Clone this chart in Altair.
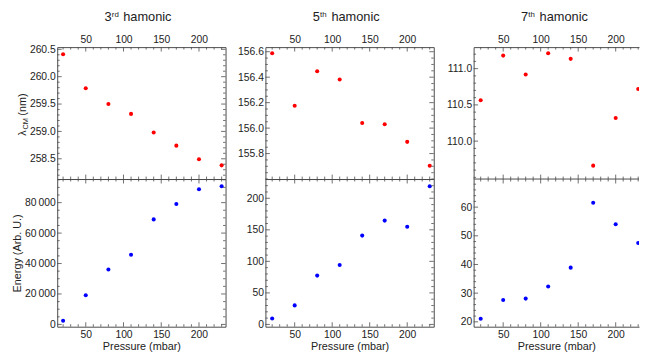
import altair as alt
import pandas as pd
import numpy as np

# ---------------- data ----------------
pressure = [20, 50, 80, 110, 140, 170, 200, 230]

lambda_3rd = [260.41, 259.79, 259.50, 259.32, 258.98, 258.74, 258.49, 258.38]
energy_3rd = [2400, 19150, 36100, 45800, 69000, 79100, 88800, 90750]
lambda_5th = [156.588, 156.175, 156.446, 156.382, 156.040, 156.030, 155.892, 155.705]
energy_5th = [9.3, 30.2, 77.4, 94.1, 140.8, 164.6, 154.8, 219.0]
lambda_7th = [110.563, 111.180, 110.920, 111.212, 111.135, 109.662, 110.320, 110.720]
energy_7th = [21.1, 27.6, 28.1, 32.3, 38.9, 61.5, 54.0, 47.5]

harmonic_num = ["3", "5", "7"]
harmonic_sup = ["rd", "th", "th"]
harmonic_word = "hamonic"

x_major = [50, 100, 150, 200]
lambda_major = [[258.5, 259.0, 259.5, 260.0, 260.5],
                [155.8, 156.0, 156.2, 156.4, 156.6],
                [110.0, 110.5, 111.0]]
energy_major = [[0, 20000, 40000, 60000, 80000],
                [0, 50, 100, 150, 200],
                [20, 30, 40, 50, 60]]
ylabel_parts = ["\u03bb", "CM", "(nm)"]

FONT = "Liberation Sans"
FRAME = "#4a4a4a"
TXT = "#222222"
W = [171, 171, 168]
H_TOP, H_BOT = 134, 150
X_DOM = [[12.2, 235.2], [11.0, 235.4], [10.6, 231.1]]
LAM_DOM = [[258.13, 260.54], [155.60, 156.636], [109.477, 111.297]]
EN_DOM = [[-1500, 95500], [-3.6, 230.5], [18.3, 69.8]]
X_MINOR = 10
LAM_MINOR = [0.1, 0.05, 0.1]
EN_MINOR = [5000, 10, 2]


def minor_ticks(step, lo, hi, majors):
    k0 = int(np.ceil(lo / step - 1e-9))
    k1 = int(np.floor(hi / step + 1e-9))
    vals = [round(k * step, 6) for k in range(k0, k1 + 1)]
    return [v for v in vals if all(abs(v - m) > step * 1e-3 for m in majors)]


def panel(i, ys, color, top):
    w = W[i]
    h = H_TOP if top else H_BOT
    xdom = X_DOM[i]
    ydom = LAM_DOM[i] if top else EN_DOM[i]
    ymaj = lambda_major[i] if top else energy_major[i]
    ystep = LAM_MINOR[i] if top else EN_MINOR[i]
    last = i == 2
    xsc = alt.Scale(domain=xdom, zero=False, nice=False)
    ysc = alt.Scale(domain=ydom, zero=False, nice=False)

    if top:
        xax = alt.Axis(orient="top", values=x_major, title=None, labelPadding=3,
                       domain=last, domainColor=FRAME)
    else:
        xax = alt.Axis(orient="bottom", values=x_major, title="Pressure (mbar)",
                       labelPadding=2.5, titleX=w / 2, titleY=20, titleAlign="center",
                       titleBaseline="middle", domain=last, domainColor=FRAME)
    yargs = dict(orient="left", values=ymaj, title=None, labelPadding=2, domain=last, domainColor=FRAME)
    if top:
        yargs["format"] = ".1f"
    elif i == 0:
        yargs["labelExpr"] = "replace(format(datum.value, ','), ',', '\u2009')"
        yargs.update(title="Energy (Arb. U.)", titleAngle=270, titleX=-40, titleY=75,
                     titleAlign="center", titleBaseline="middle")
    else:
        yargs["format"] = "d"
    yax = alt.Axis(**yargs)

    df = pd.DataFrame({"p": pressure, "v": ys})
    pts = alt.Chart(df).mark_circle(size=17, color=color, opacity=1, clip=True).encode(
        x=alt.X("p:Q", scale=xsc, axis=xax),
        y=alt.Y("v:Q", scale=ysc, axis=yax),
    )
    layers = [pts]

    xmin = minor_ticks(X_MINOR, xdom[0], xdom[1], x_major)
    ymin = minor_ticks(ystep, ydom[0], ydom[1], ymaj)
    for vals, L in ((x_major, 4.5), (xmin, 2.5)):
        d = pd.DataFrame({"p": vals})
        for y0, y1 in ((0, L), (h - L, h)):
            layers.append(alt.Chart(d).mark_rule(color=FRAME, strokeWidth=0.8).encode(
                x=alt.X("p:Q", scale=xsc, axis=xax), y=alt.value(y0), y2=alt.value(y1)))
    for vals, L in ((ymaj, 4.5), (ymin, 2.5)):
        d = pd.DataFrame({"v": vals})
        edges = [(0, L)] if last else [(0, L), (w - L, w)]
        for x0, x1 in edges:
            layers.append(alt.Chart(d).mark_rule(color=FRAME, strokeWidth=0.8).encode(
                y=alt.Y("v:Q", scale=ysc, axis=yax), x=alt.value(x0), x2=alt.value(x1)))

    if last and top:
        layers.append(alt.Chart(pd.DataFrame({"a": [0]})).mark_rule(color=FRAME, strokeWidth=1).encode(
            x=alt.value(0), x2=alt.value(w), y=alt.value(h)))

    if top:
        # heading with superscript
        layers.append(alt.Chart(pd.DataFrame({"s": [harmonic_num[i]]})).mark_text(
            align="left", baseline="alphabetic", fontSize=13, font=FONT, color=TXT).encode(
            x=alt.value(48), y=alt.value(-26.5), text="s:N"))
        layers.append(alt.Chart(pd.DataFrame({"s": [harmonic_sup[i]]})).mark_text(
            align="left", baseline="alphabetic", fontSize=8, font=FONT, color=TXT).encode(
            x=alt.value(55.5), y=alt.value(-30.5), text="s:N"))
        layers.append(alt.Chart(pd.DataFrame({"s": [harmonic_word]})).mark_text(
            align="left", baseline="alphabetic", fontSize=13, font=FONT, color=TXT).encode(
            x=alt.value(67), y=alt.value(-26.5), text="s:N"))
        if i == 0:
            layers.append(alt.Chart(pd.DataFrame({"s": [ylabel_parts[0]]})).mark_text(
                align="left", baseline="alphabetic", angle=270, fontSize=11, font=FONT, color=TXT).encode(
                x=alt.value(-32), y=alt.value(90), text="s:N"))
            layers.append(alt.Chart(pd.DataFrame({"s": [ylabel_parts[1]]})).mark_text(
                align="left", baseline="alphabetic", angle=270, fontSize=7.5, font=FONT, color=TXT).encode(
                x=alt.value(-29.5), y=alt.value(83.8), text="s:N"))
            layers.append(alt.Chart(pd.DataFrame({"s": [ylabel_parts[2]]})).mark_text(
                align="left", baseline="alphabetic", angle=270, fontSize=11, font=FONT, color=TXT).encode(
                x=alt.value(-32), y=alt.value(69.6), text="s:N"))

    ch = alt.layer(*layers).properties(width=w, height=h)
    if last:
        ch = ch.properties(view=alt.ViewBackground(stroke="transparent"))
    return ch


lams = [lambda_3rd, lambda_5th, lambda_7th]
ens = [energy_3rd, energy_5th, energy_7th]
tops = [panel(i, lams[i], "#ff0000", True) for i in range(3)]
bots = [panel(i, ens[i], "#0000ff", False) for i in range(3)]

chart = alt.concat(
    *tops, *bots, columns=3, spacing={"row": 0, "column": 40.5}, bounds="flush"
).resolve_scale(
    x="independent", y="independent"
).properties(
    padding={"left": 3, "top": 0, "right": 0, "bottom": 0},
    background="white",
).configure_view(
    stroke=FRAME, strokeWidth=1
).configure_axis(
    labelFont=FONT, labelFontSize=10.5, labelColor=TXT,
    titleFont=FONT, titleFontSize=11, titleColor=TXT, titleFontWeight="normal",
    grid=False, ticks=False,
)

chart.save("out.html", embed_options={"renderer": "svg", "actions": False})
